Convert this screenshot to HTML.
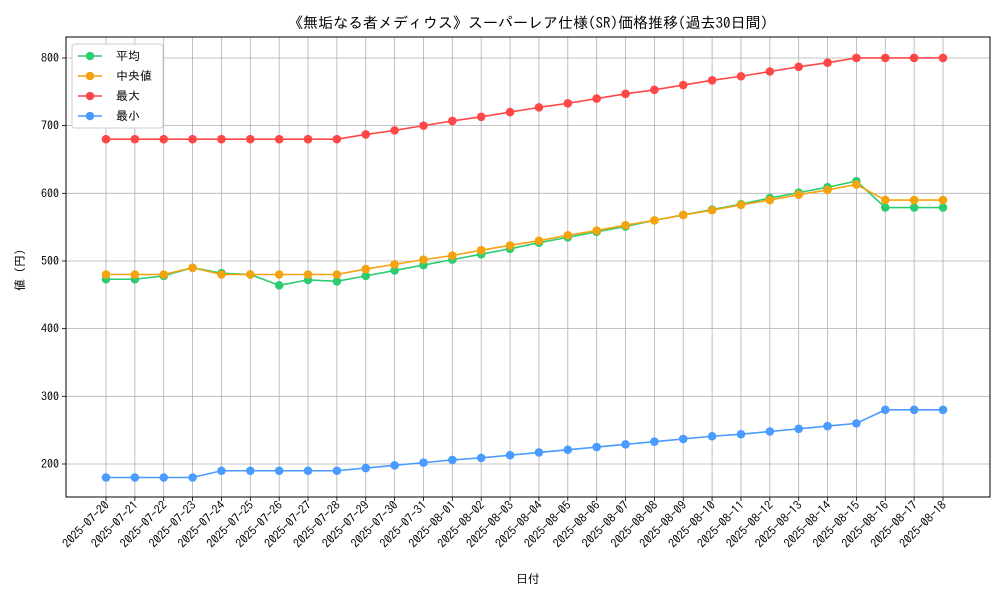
<!DOCTYPE html>
<html><head><meta charset="utf-8"><style>
body{margin:0;background:#fff;font-family:"IPAGothic","Noto Sans CJK JP",sans-serif;}
svg text{font-family:"IPAGothic","Noto Sans CJK JP",sans-serif;}
</style></head><body>
<svg id="chart" width="1000" height="600" xmlns="http://www.w3.org/2000/svg"></svg>
<script>
const dates=["2025-07-20","2025-07-21","2025-07-22","2025-07-23","2025-07-24","2025-07-25","2025-07-26","2025-07-27","2025-07-28","2025-07-29","2025-07-30","2025-07-31","2025-08-01","2025-08-02","2025-08-03","2025-08-04","2025-08-05","2025-08-06","2025-08-07","2025-08-08","2025-08-09","2025-08-10","2025-08-11","2025-08-12","2025-08-13","2025-08-14","2025-08-15","2025-08-16","2025-08-17","2025-08-18"];
const meanVals=[473,473,478,490,482,480,464,472,470,478,486,494,502,510,518,527,535,543,551,560,568,576,584,593,601,609,618,579,579,579];
const medianVals=[480,480,480,490,480,480,480,480,480,488,495,502,508,516,523,530,538,545,553,560,568,575,583,590,598,605,613,590,590,590];
const maxVals=[680,680,680,680,680,680,680,680,680,687,693,700,707,713,720,727,733,740,747,753,760,767,773,780,787,793,800,800,800,800];
const minVals=[180,180,180,180,190,190,190,190,190,194,198,202,206,209,213,217,221,225,229,233,237,241,244,248,252,256,260,280,280,280];
const yTicks=[200,300,400,500,600,700,800];
const seriesNames=["平均","中央値","最大","最小"];
const seriesColors=["#2ecc71","#f5a20f","#ff4747","#4a9bff"];
const L=66,R=990,T=37,B=497,yMin=151.2,yMax=831;
const NS="http://www.w3.org/2000/svg";
const svg=document.getElementById('chart');
function x(i){return 106+i*(943-106)/(dates.length-1);}
function y(v){return B-(v-yMin)/(yMax-yMin)*(B-T);}
function el(t,a,p){const e=document.createElementNS(NS,t);for(const k in a)e.setAttribute(k,a[k]);(p||svg).appendChild(e);return e;}
const grid=el('g',{});


dates.forEach((d,i)=>{
 el('line',{x1:x(i),x2:x(i),y1:T,y2:B,stroke:'#b0b0b0','stroke-width':0.8},grid);
 el('line',{x1:x(i),x2:x(i),y1:B,y2:B+4,stroke:'#000','stroke-width':0.8});
 const t=el('text',{x:x(i)+4,y:B+9,'font-size':12,'text-anchor':'end',transform:`rotate(-45 ${x(i)+4} ${B+9})`});
 
 
 t.textContent=d;
});
yTicks.forEach(v=>{
 el('line',{x1:L,x2:R,y1:y(v),y2:y(v),stroke:'#b0b0b0','stroke-width':0.8},grid);
 el('line',{x1:L-4,x2:L,y1:y(v),y2:y(v),stroke:'#000','stroke-width':0.8});
 const t=el('text',{x:L-7,y:y(v)+4,'font-size':12,'text-anchor':'end'});
 
 
 t.textContent=v;
});
const frame=el('rect',{x:L,y:T,width:R-L,height:B-T,fill:'none',stroke:'#000','stroke-width':1});


[meanVals,medianVals,maxVals,minVals].forEach((vals,s)=>{
 const g=el('g',{});
 
 
 el('polyline',{points:vals.map((v,i)=>x(i)+','+y(v)).join(' '),fill:'none',stroke:seriesColors[s],'stroke-width':1.6},g);
 vals.forEach((v,i)=>{
  const c=el('circle',{cx:x(i),cy:y(v),r:4.3,fill:seriesColors[s]},g);
  
  
 });
});
const title=el('text',{x:528,y:28,'font-size':15,'text-anchor':'middle'});


title.textContent='《無垢なる者メディウス》スーパーレア仕様(SR)価格推移(過去30日間)';
const xt=el('text',{x:528,y:583,'font-size':12,'text-anchor':'middle'});


xt.textContent='日付';
const yt=el('text',{x:24,y:267,'font-size':12,'text-anchor':'middle',transform:'rotate(-90 24 267)'});


yt.textContent='値（円）';
const lg=el('g',{});


el('rect',{x:72,y:44,width:91,height:84,fill:'#fff',stroke:'#ccc',rx:3},lg);
seriesNames.forEach((n,s)=>{
 const yy=56+s*20;
 const e=el('g',{},lg);
 
 
 el('line',{x1:78,x2:102,y1:yy,y2:yy,stroke:seriesColors[s],'stroke-width':1.6},e);
 el('circle',{cx:90,cy:yy,r:4.3,fill:seriesColors[s]},e);
 const t=el('text',{x:116,y:yy+4,'font-size':12},e);
 t.textContent=n;
});
</script>
</body></html>
